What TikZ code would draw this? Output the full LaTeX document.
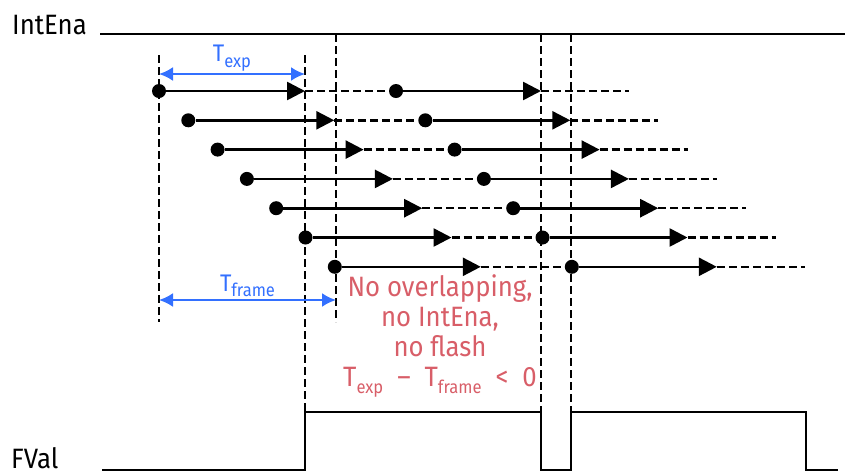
\documentclass[tikz,border=0pt]{standalone}
\usepackage{fontspec}
\setmainfont{Fira Sans}[FakeStretch=0.92]
\usetikzlibrary{arrows.meta}

\definecolor{spanblue}{RGB}{51,112,255}
\definecolor{noteredd}{RGB}{216,94,104}

\newcommand\lowidx[1]{\raisebox{-0.45ex}{\fontsize{18}{18}\selectfont #1}}

\begin{document}
\begin{tikzpicture}[
        x=1pt, y=-1pt,
        font=\fontsize{28}{30}\selectfont,
        sig/.style={line width=2.6pt},
        siglabel/.style={anchor=base west, inner sep=1pt},
        guide/.style={line width=2pt, dash pattern=on 8pt off 4pt},
        expo/.style={line width=2.6pt, -{Triangle[length=18pt,width=18pt]}},
        idle/.style={line width=2.4pt, dash pattern=on 8pt off 4pt},
        dot/.style={circle, fill=black, inner sep=0pt, minimum size=14pt},
        span/.style={draw=spanblue, line width=2.2pt,
            {Latex[length=14pt,width=14pt]}-{Latex[length=14pt,width=14pt]}},
        spanlabel/.style={text=spanblue, font=\fontsize{24}{26}\selectfont,
            inner sep=2pt, above}
    ]
    \useasboundingbox (0,0) rectangle (849,475);

    % --- SIGNALS ---
    \node[siglabel] (intena) at (11,34) {IntEna};
    \coordinate (ie0) at (100,34);
    \coordinate (ie1) at (845,34);
    \draw[sig] (ie0) -- (ie1);

    \node[siglabel] (fval) at (10,468) {FVal};
    \coordinate (fv0) at (102,470);
    \coordinate (fv1) at (305,412);
    \coordinate (fv2) at (541,470);
    \coordinate (fv3) at (571,412);
    \coordinate (fv4) at (806,470);
    \coordinate (fv5) at (838,470);
    \draw[sig] (fv0) -| (fv1) -| (fv2) -| (fv3) -| (fv4) -- (fv5);

    % --- FRAMES ---
    \foreach \i in {0,...,6} {
        \pgfmathsetmacro\dx{29.3*\i}
        \pgfmathsetmacro\yy{91+29.3*\i}
        \node[dot] (a\i) at (159+\dx,\yy) {};
        \coordinate (b\i) at (305+\dx,\yy);
        \node[dot] (c\i) at (396+\dx,\yy) {};
        \coordinate (d\i) at (541+\dx,\yy);
        \coordinate (f\i) at (629+\dx,\yy);
        \draw[expo] (a\i) -- (b\i);
        \draw[idle] (b\i) -- (c\i);
        \draw[expo] (c\i) -- (d\i);
        \draw[idle] (d\i) -- (f\i);
    }

    % --- GUIDES ---
    \coordinate (g1t) at (159,55);  \coordinate (g1b) at (159,322);
    \coordinate (g2t) at (305,55);  \coordinate (g2b) at (305,412);
    \coordinate (g3t) at (336,34);  \coordinate (g3b) at (336,322);
    \coordinate (g4t) at (541,34);  \coordinate (g4b) at (541,412);
    \coordinate (g5t) at (571,34);  \coordinate (g5b) at (571,412);
    \foreach \g in {1,...,5}
        \draw[guide] (g\g t) -- (g\g b);

    % --- SPANS ---
    \coordinate (te0) at (159,74);
    \coordinate (te1) at (305,74);
    \draw[span] (te0) -- node[spanlabel] {T\lowidx{exp}} (te1);

    \coordinate (tf0) at (159,300);
    \coordinate (tf1) at (336,300);
    \draw[span] (tf0) -- node[spanlabel] {T\lowidx{frame}} (tf1);

    % --- NOTE ---
    \node[align=center, text=noteredd, inner sep=0pt] (note) at (440,336) {
    No overlapping,\\
    no IntEna,\\
    no flash\\
    T\lowidx{exp}\enspace–\enspace T\lowidx{frame}\enspace<\enspace 0
    };

\end{tikzpicture}
\end{document}
